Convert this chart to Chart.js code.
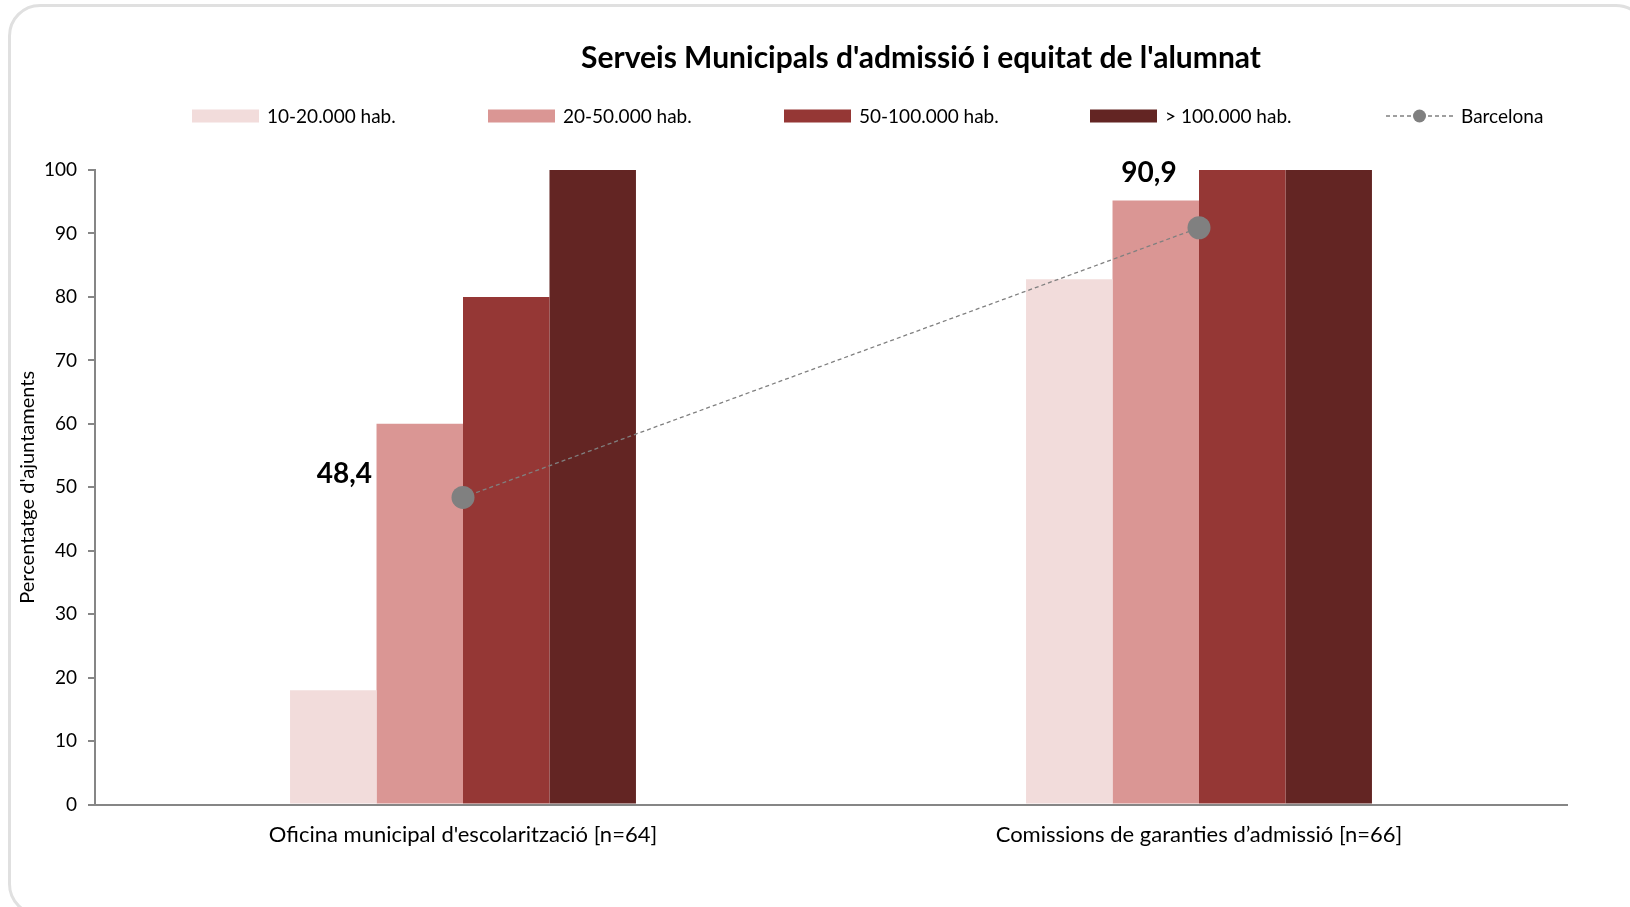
<!DOCTYPE html>
<html>
<head>
<meta charset="utf-8">
<script src="https://cdn.jsdelivr.net/npm/chart.js@4.4.1/dist/chart.umd.min.js"></script>
<style>
  html, body { margin: 0; padding: 0; background: #ffffff; }
  #wrap { position: relative; width: 1630px; height: 907px; overflow: hidden; }
  #card {
    position: absolute; left: 8px; top: 4px; width: 1640px; height: 912px;
    box-sizing: border-box; border: 3px solid #e0e0e0; border-radius: 32px;
  }
  #chartBox { position: absolute; left: 0; top: 0; width: 1630px; height: 907px; }
</style>
</head>
<body>
<div id="wrap">
  <div id="card"></div>
  <div id="chartBox"><canvas id="chart"></canvas></div>
</div>
<script>
// dades
var chartTitle = "Serveis Municipals d'admissió i equitat de l'alumnat";
var categories = ["Oficina municipal d'escolarització [n=64]", "Comissions de garanties d\u2019admissió [n=66]"];
var seriesNames = ['10-20.000 hab.', '20-50.000 hab.', '50-100.000 hab.', '> 100.000 hab.'];
var hab10_20 = [18, 82.8];
var hab20_50 = [60, 95.2];
var hab50_100 = [80, 100];
var hab100plus = [100, 100];
var barcelonaName = 'Barcelona';
var barcelona = [48.4, 90.9];
var yAxisTitle = "Percentatge d'ajuntaments";

var barColors = ['#F2DCDB', '#DA9694', '#953735', '#632523'];
var FONT = 'Lato, "Open Sans", sans-serif';

// títol, llegenda i etiquetes de Barcelona
var decoPlugin = {
    id: 'deco',
    afterDraw: function (chart) {
        var ctx = chart.ctx;
        ctx.save();
        // títol
        ctx.fillStyle = '#000';
        ctx.font = 'bold 30px ' + FONT;
        ctx.textAlign = 'center';
        ctx.textBaseline = 'middle';
        ctx.fillText(chartTitle, 921, 58);

        // llegenda
        var legX = [192, 488, 784, 1090];
        var legY = 116;
        ctx.font = '19px ' + FONT;
        ctx.textAlign = 'left';
        for (var i = 0; i < seriesNames.length; i++) {
            ctx.fillStyle = barColors[i];
            ctx.fillRect(legX[i], legY - 6.5, 67, 13);
            ctx.fillStyle = '#000';
            ctx.fillText(seriesNames[i], legX[i] + 75, legY + 1);
        }
        var bx = 1386;
        ctx.strokeStyle = '#808080';
        ctx.lineWidth = 1.3;
        ctx.setLineDash([4, 3]);
        ctx.beginPath();
        ctx.moveTo(bx, legY);
        ctx.lineTo(bx + 67, legY);
        ctx.stroke();
        ctx.setLineDash([]);
        ctx.fillStyle = '#808080';
        ctx.beginPath();
        ctx.arc(bx + 33.5, legY, 6.5, 0, Math.PI * 2);
        ctx.fill();
        ctx.fillStyle = '#000';
        ctx.fillText(barcelonaName, bx + 75, legY + 1);

        // etiquetes de valor
        var meta = chart.getDatasetMeta(4);
        var offs = [[-91, -23, 'right'], [-50, -55, 'center']];
        ctx.font = 'bold 28px ' + FONT;
        ctx.fillStyle = '#000';
        meta.data.forEach(function (pt, k) {
            ctx.textAlign = offs[k][2];
            ctx.fillText(barcelona[k].toFixed(1).replace('.', ','), pt.x + offs[k][0], pt.y + offs[k][1]);
        });
        ctx.restore();
    }
};

function barSet(label, data, color) {
    return {
        label: label,
        data: data,
        backgroundColor: color,
        borderWidth: 0,
        categoryPercentage: 0.47,
        barPercentage: 1.0,
        order: 1
    };
}

new Chart(document.getElementById('chart').getContext('2d'), {
    type: 'bar',
    data: {
        labels: categories,
        datasets: [
            barSet(seriesNames[0], hab10_20, barColors[0]),
            barSet(seriesNames[1], hab20_50, barColors[1]),
            barSet(seriesNames[2], hab50_100, barColors[2]),
            barSet(seriesNames[3], hab100plus, barColors[3]),
            {
                label: barcelonaName,
                type: 'line',
                data: barcelona,
                borderColor: '#808080',
                borderWidth: 1.3,
                borderDash: [4, 3],
                pointRadius: 11.5,
                pointBackgroundColor: '#808080',
                pointBorderWidth: 0,
                fill: false,
                order: 0
            }
        ]
    },
    options: {
        responsive: true,
        maintainAspectRatio: false,
        animation: false,
        layout: { padding: { top: 170, left: 10, right: 63, bottom: 42 } },
        plugins: {
            legend: { display: false },
            title: { display: false },
            tooltip: { enabled: false }
        },
        scales: {
            x: {
                grid: { display: true, drawOnChartArea: false, drawTicks: false },
                border: { color: '#868686', width: 2 },
                ticks: { color: '#000', font: { family: FONT, size: 22 }, padding: 17, maxRotation: 0 }
            },
            y: {
                min: 0,
                max: 100,
                afterFit: function (scale) { scale.width = 85; },
                ticks: { stepSize: 10, color: '#000', font: { family: FONT, size: 19 }, padding: 11 },
                grid: { drawOnChartArea: false, drawTicks: true, tickLength: 7, color: '#868686', lineWidth: 2 },
                border: { color: '#868686', width: 2 },
                title: {
                    display: true,
                    text: yAxisTitle,
                    color: '#000',
                    font: { family: FONT, size: 20 },
                    padding: { top: 6, bottom: 0 }
                }
            }
        }
    },
    plugins: [decoPlugin]
});
</script>
</body>
</html>
